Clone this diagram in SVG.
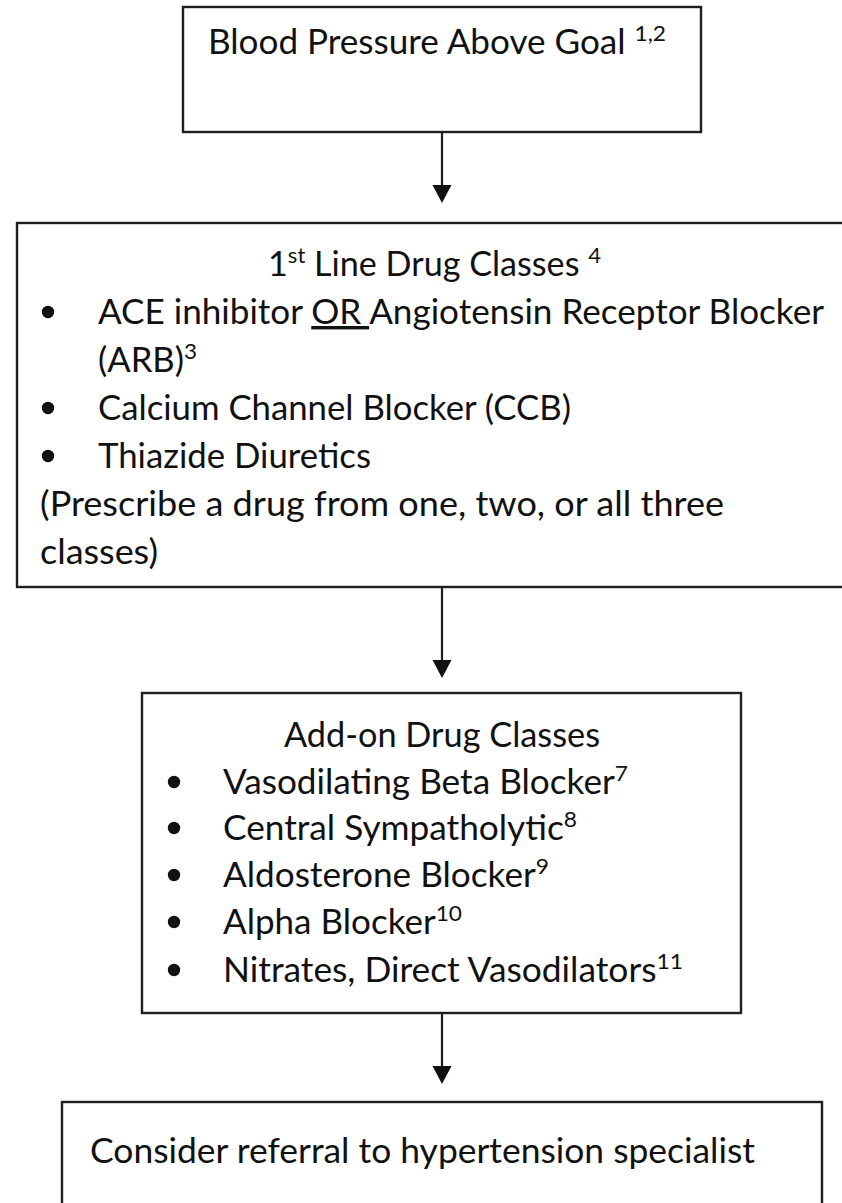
<svg xmlns="http://www.w3.org/2000/svg" width="842" height="1203" viewBox="0 0 842 1203">
  <style>
    .box { fill: #ffffff; stroke: #1e1e1e; stroke-width: 2.4; }
    .link { stroke: #1e1e1e; stroke-width: 2.2; fill: none; }
    .head { fill: #111111; }
    .t { font-family: "Lato", "Open Sans", "Liberation Sans", sans-serif; font-size: 34px; fill: #111111; }
    .sup { font-size: 22px; }
    .dot { fill: #111111; }
  </style>
  <rect width="842" height="1203" fill="#ffffff"/>

  <!-- connectors: vertical shafts with filled triangular heads -->
  <g id="connectors">
    <line class="link" x1="442" y1="132" x2="442" y2="186"/>
    <path class="head" d="M432.5,185 L451.5,185 L442,203 z"/>
    <line class="link" x1="442" y1="587" x2="442" y2="661"/>
    <path class="head" d="M432.5,660 L451.5,660 L442,678 z"/>
    <line class="link" x1="442" y1="1013" x2="442" y2="1067"/>
    <path class="head" d="M432.5,1066 L451.5,1066 L442,1084 z"/>
  </g>

  <!-- start: blood pressure above goal -->
  <g id="node-goal">
    <rect class="box" x="183" y="7" width="518" height="125"/>
    <text class="t" x="208" y="54" textLength="458" lengthAdjust="spacingAndGlyphs">Blood Pressure Above Goal <tspan class="sup" dy="-13">1,2</tspan></text>
  </g>

  <!-- first line drug classes (box runs past the right edge) -->
  <g id="node-first-line">
    <rect class="box" x="17" y="223" width="860" height="364"/>
    <text class="t" x="268" y="276" textLength="333" lengthAdjust="spacingAndGlyphs">1<tspan class="sup" dy="-13">st</tspan><tspan dy="13"> Line Drug Classes </tspan><tspan class="sup" dy="-13">4</tspan></text>
    <circle class="dot" cx="48" cy="312" r="6.2"/>
    <text class="t" x="98" y="324" textLength="726" lengthAdjust="spacingAndGlyphs">ACE inhibitor <tspan text-decoration="underline">OR </tspan>Angiotensin Receptor Blocker</text>
    <text class="t" x="98" y="372" textLength="99" lengthAdjust="spacingAndGlyphs">(ARB)<tspan class="sup" dy="-13">3</tspan></text>
    <circle class="dot" cx="48" cy="408" r="6.2"/>
    <text class="t" x="98" y="420" textLength="473" lengthAdjust="spacingAndGlyphs">Calcium Channel Blocker (CCB)</text>
    <circle class="dot" cx="48" cy="456" r="6.2"/>
    <text class="t" x="98" y="468" textLength="273" lengthAdjust="spacingAndGlyphs">Thiazide Diuretics</text>
    <text class="t" x="40" y="516" textLength="684" lengthAdjust="spacingAndGlyphs">(Prescribe a drug from one, two, or all three</text>
    <text class="t" x="40" y="564" textLength="118" lengthAdjust="spacingAndGlyphs">classes)</text>
  </g>

  <!-- add-on drug classes -->
  <g id="node-add-on">
    <rect class="box" x="142" y="693" width="599" height="320"/>
    <text class="t" x="284" y="747" textLength="316" lengthAdjust="spacingAndGlyphs">Add-on Drug Classes</text>
    <circle class="dot" cx="174" cy="782" r="6.2"/>
    <text class="t" x="223" y="794" textLength="405" lengthAdjust="spacingAndGlyphs">Vasodilating Beta Blocker<tspan class="sup" dy="-13">7</tspan></text>
    <circle class="dot" cx="174" cy="828" r="6.2"/>
    <text class="t" x="223" y="840" textLength="354" lengthAdjust="spacingAndGlyphs">Central Sympatholytic<tspan class="sup" dy="-13">8</tspan></text>
    <circle class="dot" cx="174" cy="875" r="6.2"/>
    <text class="t" x="223" y="887" textLength="326" lengthAdjust="spacingAndGlyphs">Aldosterone Blocker<tspan class="sup" dy="-13">9</tspan></text>
    <circle class="dot" cx="174" cy="922" r="6.2"/>
    <text class="t" x="223" y="934" textLength="239" lengthAdjust="spacingAndGlyphs">Alpha Blocker<tspan class="sup" dy="-13">10</tspan></text>
    <circle class="dot" cx="174" cy="970" r="6.2"/>
    <text class="t" x="223" y="982" textLength="460" lengthAdjust="spacingAndGlyphs">Nitrates, Direct Vasodilators<tspan class="sup" dy="-13">11</tspan></text>
  </g>

  <!-- referral (box runs past the bottom edge) -->
  <g id="node-referral">
    <rect class="box" x="62" y="1102" width="760" height="140"/>
    <text class="t" x="90" y="1163" textLength="665" lengthAdjust="spacingAndGlyphs">Consider referral to hypertension specialist</text>
  </g>
</svg>
